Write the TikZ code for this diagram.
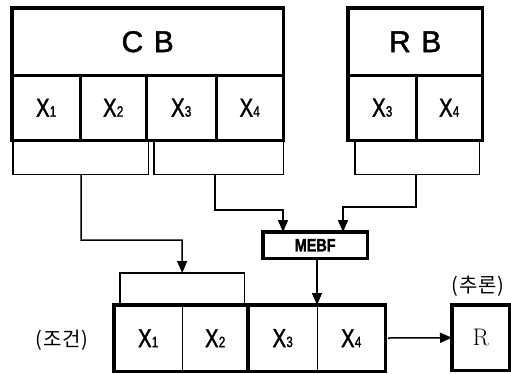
\documentclass[tikz,border=0pt]{standalone}
\usepackage{fontspec}
\setmainfont{Liberation Sans}
\newfontfamily\narrowfont[FakeStretch=0.78,FakeBold=1.5]{Liberation Sans}
\newfontfamily\widefont[FakeBold=1.5]{Liberation Sans}
\newfontfamily\narrowbold[FakeStretch=0.8,FakeBold=1.5]{Liberation Sans Bold}
\newfontfamily\krfont{Noto Sans CJK KR}
\usetikzlibrary{arrows.meta}
% variable name with a small digit beside it
\newcommand\Xsub[1]{{\narrowfont\fontsize{26}{26}\selectfont X\kern0.2pt{\fontsize{15}{15}\selectfont #1}}}
\tikzset{
  thick line/.style={line width=3.2pt},
  thin line/.style={line width=1.5pt},
  cellbox/.style={rectangle, inner sep=0pt, anchor=north west},
  link/.style={thin line, -{Triangle[length=12pt,width=10pt]}},
  note/.style={inner sep=0pt, font=\krfont\fontsize{20}{20}\selectfont},
}
\begin{document}
\begin{tikzpicture}[x=1pt,y=-1pt]
\useasboundingbox (0,0) rectangle (511,373);
\fill[white] (0,0) rectangle (511,373);

% ---- CB block ----
\node[cellbox, minimum width=271pt, minimum height=67pt] (cb) at (12,8)
  {\widefont\fontsize{30}{30}\selectfont C\hspace{0.35em}B};
\node[cellbox, minimum width=68pt, minimum height=65pt] (c1) at (12,75) {\Xsub1};
\node[cellbox, minimum width=66pt, minimum height=65pt] (c2) at (80,75) {\Xsub2};
\node[cellbox, minimum width=70pt, minimum height=65pt] (c3) at (146,75) {\Xsub3};
\node[cellbox, minimum width=67pt, minimum height=65pt] (c4) at (216,75) {\Xsub4};
\draw[thick line] (cb.north west) rectangle (c4.south east);
\draw[thick line] (cb.south west) -- (cb.south east);
\foreach \c in {c1,c2,c3} \draw[thick line] (\c.north east) -- (\c.south east);

% ---- RB block ----
\node[cellbox, minimum width=134pt, minimum height=67pt] (rb) at (348,8)
  {\widefont\fontsize{30}{30}\selectfont R\hspace{0.35em}B};
\node[cellbox, minimum width=68pt, minimum height=65pt] (r3) at (348,75) {\Xsub3};
\node[cellbox, minimum width=66pt, minimum height=65pt] (r4) at (416,75) {\Xsub4};
\draw[thick line] (rb.north west) rectangle (r4.south east);
\draw[thick line] (rb.south west) -- (rb.south east);
\draw[thick line] (r3.north east) -- (r3.south east);

% ---- grouping brackets under the blocks ----
\node[cellbox, minimum width=135pt, minimum height=34pt] (ga) at (13,140) {};
\node[cellbox, minimum width=129pt, minimum height=34pt] (gb) at (154,140) {};
\node[cellbox, minimum width=124pt, minimum height=34pt] (gc) at (355,140) {};
\foreach \g in {ga,gb,gc}
  \draw[thin line] (\g.north west) -- (\g.south west) -- (\g.south east) -- (\g.north east);
\coordinate (sa) at (81,174);
\coordinate (sb) at (215,174);
\coordinate (sc) at (416,174);

% ---- MEBF ----
\node[cellbox, minimum width=104pt, minimum height=26pt] (mebf) at (263,232)
  {\narrowbold\fontsize{18}{18}\selectfont MEBF};
\draw[thick line] (mebf.north west) rectangle (mebf.south east);

% ---- condition part ----
\node[cellbox, minimum width=124pt, minimum height=32pt] (gd) at (120,273) {};
\draw[thin line] (gd.south west) -- (gd.north west) -- (gd.north east) -- (gd.south east);
\node[cellbox, minimum width=68pt, minimum height=66pt] (d1) at (114,305) {\Xsub1};
\node[cellbox, minimum width=66pt, minimum height=66pt] (d2) at (182,305) {\Xsub2};
\node[cellbox, minimum width=69pt, minimum height=66pt] (d3) at (248,305) {\Xsub3};
\node[cellbox, minimum width=68pt, minimum height=66pt] (d4) at (317,305) {\Xsub4};
\draw[thick line] (d1.north west) rectangle (d2.south east);
\draw[thick line] (d3.north west) rectangle (d4.south east);
\draw[thin line] (d1.north east) -- (d1.south east);
\draw[thin line] (d3.north east) -- (d3.south east);

% ---- result ----
\node[cellbox, minimum width=57pt, minimum height=65pt] (res) at (452,305)
  {\fontfamily{lmr}\fontsize{24}{24}\selectfont R};
\draw[thick line] (res.north west) rectangle (res.south east);

\node[note] (lcond) at (62,340) {(\kern1pt조건\kern1pt)};
\node[note] (linf) at (478,286) {(\kern1pt추론\kern1pt)};

% ---- connectors ----
\draw[link] (sa) |- (182,240) -- (gd.north);
\draw[link] (sb) |- (283,210) -- (mebf.north west -| 283,0);
\draw[link] (sc) |- (343,207) -- (mebf.north west -| 343,0);
\draw[link] (mebf.south -| 317,0) -- (d4.north west);
\draw[link] (388,338) -- (res.west);
\end{tikzpicture}
\end{document}
